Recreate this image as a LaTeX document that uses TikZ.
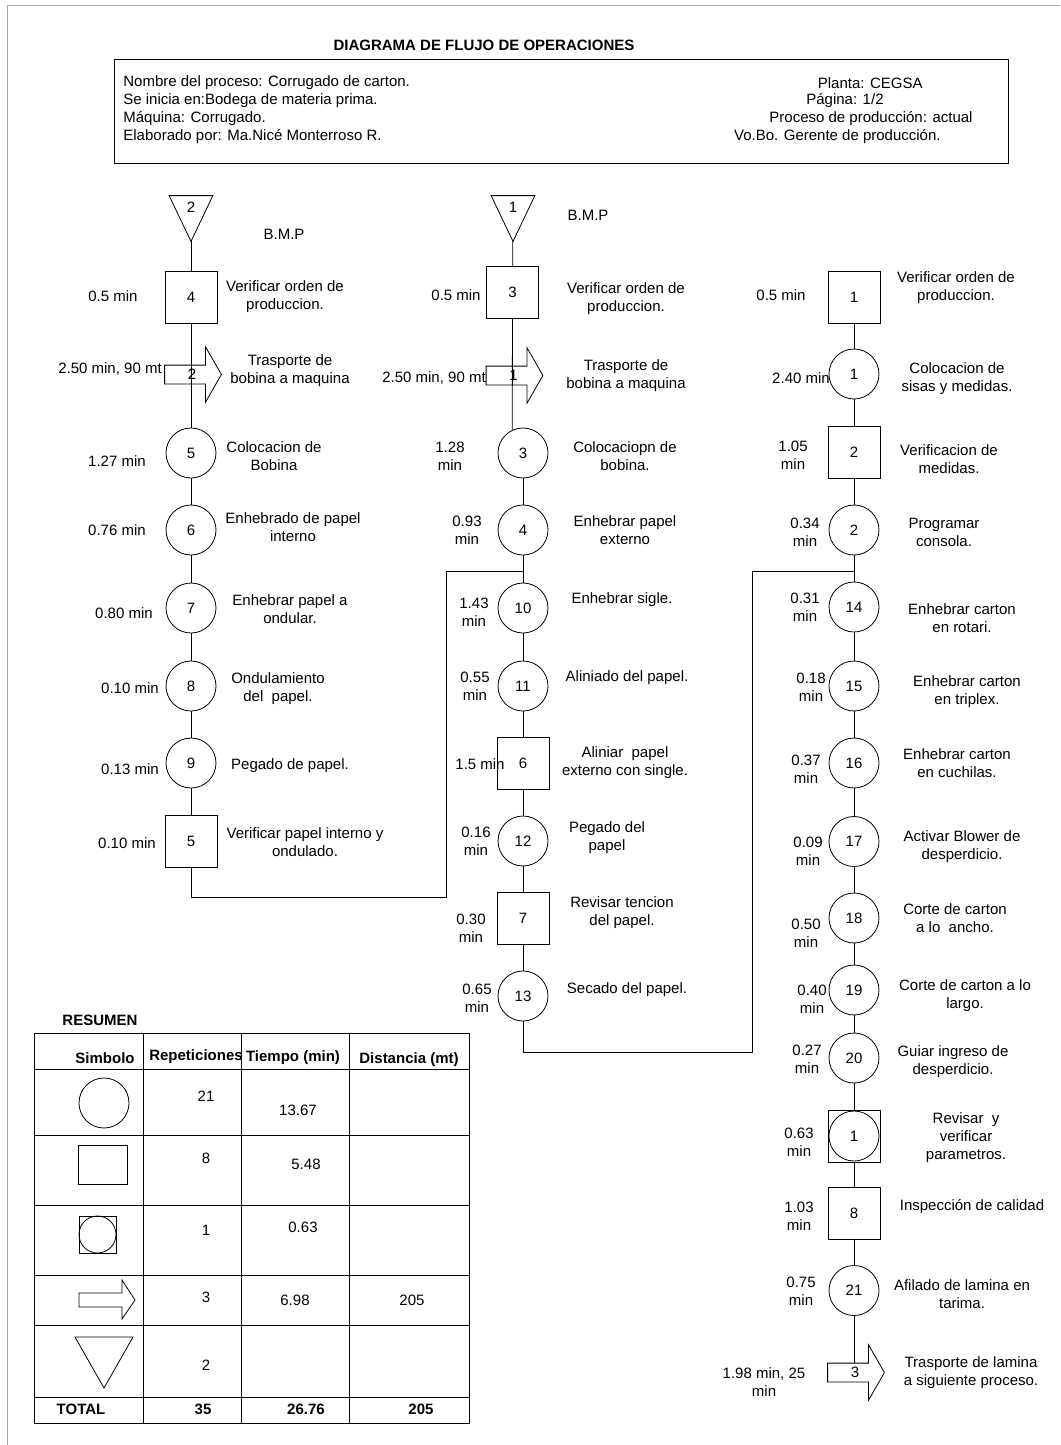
\documentclass[tikz,border=0pt]{standalone}
\usepackage{fontspec}
\setmainfont{Liberation Sans}
\usetikzlibrary{positioning}

\begin{document}
\begin{tikzpicture}[x=1pt,y=-1pt,line width=0.8pt,font=\fontsize{15}{18}\selectfont]

\tikzset{
oper/.style={
    circle,
    draw,
    minimum size=50pt,
    inner sep=0pt
},
insp/.style={
    rectangle,
    draw,
    minimum width=52pt,
    minimum height=52pt,
    inner sep=0pt
},
combo/.style={
    insp,
    path picture={\draw (path picture bounding box.center) circle (25pt);}
},
store/.style={
    minimum width=43pt,
    minimum height=45pt,
    inner sep=0pt,
    text height=11pt,
    text depth=23pt,
    append after command={\pgfextra{\draw (\tikzlastnode.north west) -- (\tikzlastnode.north east) -- (\tikzlastnode.south) -- cycle;}}
},
transp/.style={
    minimum width=40pt,
    minimum height=18pt,
    inner sep=0pt,
    execute at begin node={\hspace*{14pt}},
    append after command={\pgfextra{\draw (\tikzlastnode.north west) -- (\tikzlastnode.north east) -- ([yshift=18.5pt]\tikzlastnode.north east) -- ([xshift=16pt]\tikzlastnode.east) -- ([yshift=-18.5pt]\tikzlastnode.south east) -- (\tikzlastnode.south east) -- (\tikzlastnode.south west) -- cycle;}}
},
txt/.style={inner sep=0pt, align=center},
bold/.style={txt, font=\fontsize{15}{18}\selectfont\bfseries}
}

\useasboundingbox (0,0) rectangle (1060,1445);
\draw[gray!70,line width=1pt] (7,1445) -- (7,6) -- (1060,6);

% encabezado
\node[bold] (title) at (484,45) {DIAGRAMA DE FLUJO DE OPERACIONES};
\node[draw,minimum width=894pt,minimum height=104pt] (infobox) at (561,111) {};
\node[txt,anchor=west] (proc) at (123,83) {Nombre del proceso: Corrugado de carton.};
\node[txt,anchor=west] (inicio) at (123,101) {Se inicia en:Bodega de materia prima.};
\node[txt,anchor=west] (maq) at (123,119) {Máquina: Corrugado.};
\node[txt,anchor=west] (elab) at (123,137) {Elaborado por: Ma.Nicé Monterroso R.};
\node[txt,anchor=east] (planta) at (923,83) {Planta: CEGSA};
\node[txt,anchor=east] (pag) at (884,101) {Página: 1/2};
\node[txt,anchor=east] (estado) at (973,119) {Proceso de producción: actual};
\node[txt,anchor=east] (vobo) at (941,137) {Vo.Bo. Gerente de producción.};

% columna 1
\node[store] (s2) at (191,218.5) {2};
\node[txt] (bmp2) at (284,234) {B.M.P};
\node[insp] (i4) at (191,297) {4};
\node[txt] (ti4) at (113,296) {0.5 min};
\node[txt] (di4) at (285,297) {Verificar orden de\\produccion.};
\node[transp] (tr2) at (185,374.5) {2};
\node[txt] (ttr2) at (110,369) {2.50 min, 90 mt};
\node[txt] (dtr2) at (290,371) {Trasporte de\\bobina a maquina};
\node[oper] (c5) at (191,453) {5};
\node[txt] (tc5) at (117,461) {1.27 min};
\node[txt] (dc5) at (274,456.5) {Colocacion de\\Bobina};
\node[oper] (c6) at (191,530) {6};
\node[txt] (tc6) at (117,530) {0.76 min};
\node[txt] (dc6) at (293,527.5) {Enhebrado de papel\\interno};
\node[oper] (c7) at (191,608) {7};
\node[txt] (tc7) at (124,613) {0.80 min};
\node[txt] (dc7) at (290,609.5) {Enhebrar papel a\\ondular.};
\node[oper] (c8) at (191,686) {8};
\node[txt] (tc8) at (130,688) {0.10 min};
\node[txt] (dc8) at (278,689) {Ondulamiento\\del~ papel.};
\node[oper] (c9) at (191,763) {9};
\node[txt] (tc9) at (130,769) {0.13 min};
\node[txt] (dc9) at (290,766) {Pegado de papel.};
\node[insp] (i5) at (191,841) {5};
\node[txt] (ti5) at (127,843) {0.10 min};
\node[txt] (di5) at (305,842.5) {Verificar papel interno y\\ondulado.};

% columna 2
\node[store] (s1) at (513,218.5) {1};
\node[txt] (bmp1) at (588,215) {B.M.P};
\node[insp] (i3) at (512.5,292.5) {3};
\node[txt] (ti3) at (456,295) {0.5 min};
\node[txt] (di3) at (626,299) {Verificar orden de\\produccion.};
\node[transp] (tr1) at (506.5,375.5) {1};
\node[txt] (ttr1) at (434,378) {2.50 min, 90 mt};
\node[txt] (dtr1) at (626,376) {Trasporte de\\bobina a maquina};
\node[oper] (c3) at (523,453) {3};
\node[txt] (tc3) at (450,456.5) {1.28\\min};
\node[txt] (dc3) at (625,456.5) {Colocaciopn de\\bobina.};
\node[oper] (c4) at (523,530) {4};
\node[txt] (tc4) at (467,530) {0.93\\min};
\node[txt] (dc4) at (625,530) {Enhebrar papel\\externo};
\node[oper] (c10) at (523,608) {10};
\node[txt] (tc10) at (474,612.5) {1.43\\min};
\node[txt] (dc10) at (622,600) {Enhebrar sigle.};
\node[oper] (c11) at (523,686) {11};
\node[txt] (tc11) at (475,686) {0.55\\min};
\node[txt] (dc11) at (627,678) {Aliniado del papel.};
\node[insp] (i6) at (523,763) {6};
\node[txt] (ti6) at (480,764) {1.5 min};
\node[txt] (di6) at (625,763) {Aliniar~ papel\\externo con single.};
\node[oper] (c12) at (523,841) {12};
\node[txt] (tc12) at (476,841.5) {0.16\\min};
\node[txt] (dc12) at (607,838) {Pegado del\\papel};
\node[insp] (i7) at (523,918) {7};
\node[txt] (ti7) at (471,928) {0.30\\min};
\node[txt] (di7) at (622,912.5) {Revisar tencion\\del papel.};
\node[oper] (c13) at (523,996) {13};
\node[txt] (tc13) at (477,998.5) {0.65\\min};
\node[txt] (dc13) at (627,990) {Secado del papel.};

% columna 3
\node[insp] (i1) at (854,297.5) {1};
\node[txt] (ti1) at (781,295) {0.5 min};
\node[txt] (di1) at (956,288) {Verificar orden de\\produccion.};
\node[oper] (c1) at (854,374) {1};
\node[txt] (tc1) at (801,378) {2.40 min};
\node[txt] (dc1) at (957,379) {Colocacion de\\sisas y medidas.};
\node[insp] (i2) at (854,452.5) {2};
\node[txt] (ti2) at (793,455) {1.05\\min};
\node[txt] (di2) at (949,459) {Verificacion de\\medidas.};
\node[oper] (c2) at (854,530) {2};
\node[txt] (tc2) at (805,532.5) {0.34\\min};
\node[txt] (dc2) at (944,532.5) {Programar\\consola.};
\node[oper] (c14) at (854,607) {14};
\node[txt] (tc14) at (805,607.5) {0.31\\min};
\node[txt] (dc14) at (962,618.5) {Enhebrar carton\\en rotari.};
\node[oper] (c15) at (854,686) {15};
\node[txt] (tc15) at (811,687.5) {0.18\\min};
\node[txt] (dc15) at (967,692) {Enhebrar carton\\en triplex.};
\node[oper] (c16) at (854,763) {16};
\node[txt] (tc16) at (806,769) {0.37\\min};
\node[txt] (dc16) at (957,763.5) {Enhebrar carton\\en cuchilas.};
\node[oper] (c17) at (854,841.5) {17};
\node[txt] (tc17) at (808,851.5) {0.09\\min};
\node[txt] (dc17) at (962,847) {Activar Blower de\\desperdicio.};
\node[oper] (c18) at (854,918) {18};
\node[txt] (tc18) at (806,933.5) {0.50\\min};
\node[txt] (dc18) at (955,918) {Corte de carton\\a lo~ ancho.};
\node[oper] (c19) at (854,990) {19};
\node[txt] (tc19) at (812,999.5) {0.40\\min};
\node[txt] (dc19) at (965,996) {Corte de carton a lo\\largo.};
\node[oper] (c20) at (854,1058) {20};
\node[txt] (tc20) at (807,1059.5) {0.27\\min};
\node[txt] (dc20) at (953,1061.5) {Guiar ingreso de\\desperdicio.};
\node[combo] (ic1) at (854,1136) {1};
\node[txt] (tic1) at (799,1142.5) {0.63\\min};
\node[txt] (dic1) at (966,1138) {Revisar~ y\\verificar\\parametros.};
\node[insp] (i8) at (854,1213) {8};
\node[txt] (ti8) at (799,1216.5) {1.03\\min};
\node[txt] (di8) at (972,1207) {Inspección de calidad};
\node[oper] (c21) at (854,1290.5) {21};
\node[txt] (tc21) at (801,1291) {0.75\\min};
\node[txt] (dc21) at (962,1294.5) {Afilado de lamina en\\tarima.};
\node[transp] (tr3) at (848,1372.5) {3};
\node[txt] (ttr3) at (764,1382.5) {1.98 min, 25\\min};
\node[txt] (dtr3) at (971,1372.5) {Trasporte de lamina\\a siguiente proceso.};

% conectores
\coordinate (k1) at (446,897);
\coordinate (j1) at (523,571);
\coordinate (k2) at (752,1052);
\coordinate (j2) at (854,571);

\draw (s2) -- (i4) -- (c5) -- (c6) -- (c7) -- (c8) -- (c9) -- (i5);
\draw (i5.south) |- (k1) |- (j1);
\draw (s1) -- (i3) -- (c3.115);
\draw (c3) -- (c4) -- (c10) -- (c11) -- (i6) -- (c12) -- (i7) -- (c13);
\draw (c13.south) |- (k2) |- (j2);
\draw (i1) -- (c1) -- (i2) -- (c2) -- (c14) -- (c15) -- (c16) -- (c17) -- (c18) -- (c19) -- (c20) -- (ic1) -- (i8) -- (c21) -- (c21 |- tr3.north);

% resumen
\node[bold] (resumen) at (100,1020) {RESUMEN};
\draw (34,1033) rectangle (469,1423);
\foreach \y in {1069,1135,1205,1275,1325,1397}
  \draw (34,\y) -- (469,\y);
\foreach \x in {143,241,349}
  \draw (\x,1033) -- (\x,1423);

\node[bold] (hsim) at (105,1058) {Simbolo};
\node[bold] (hrep) at (196,1057) {Repeticiones};
\node[bold] (htie) at (293,1058) {Tiempo (min)};
\node[bold] (hdis) at (409,1060) {Distancia (mt)};

\draw (104,1103) circle (25pt);
\draw (78,1145) rectangle (127,1184);
\draw (79,1216) rectangle (116,1253);
\draw (97.5,1234.5) circle (18.5pt);
\draw (79,1293) -- (122,1293) -- (122,1280) -- (135,1300) -- (122,1319) -- (122,1307) -- (79,1307) -- cycle;
\draw (75,1337) -- (133,1337) -- (104,1388) -- cycle;

\node[txt] (rop) at (206,1096) {21};
\node[txt] (top) at (298,1110) {13.67};
\node[txt] (rin) at (206,1158) {8};
\node[txt] (tin) at (306,1164) {5.48};
\node[txt] (rco) at (206,1230) {1};
\node[txt] (tco) at (303,1227) {0.63};
\node[txt] (rtr) at (206,1297) {3};
\node[txt] (ttr) at (295,1300) {6.98};
\node[txt] (dtr) at (412,1300) {205};
\node[txt] (ral) at (206,1365) {2};

\node[bold] (total) at (81,1409) {TOTAL};
\node[bold] (rtot) at (203,1409) {35};
\node[bold] (ttot) at (306,1409) {26.76};
\node[bold] (dtot) at (421,1409) {205};

\end{tikzpicture}
\end{document}
